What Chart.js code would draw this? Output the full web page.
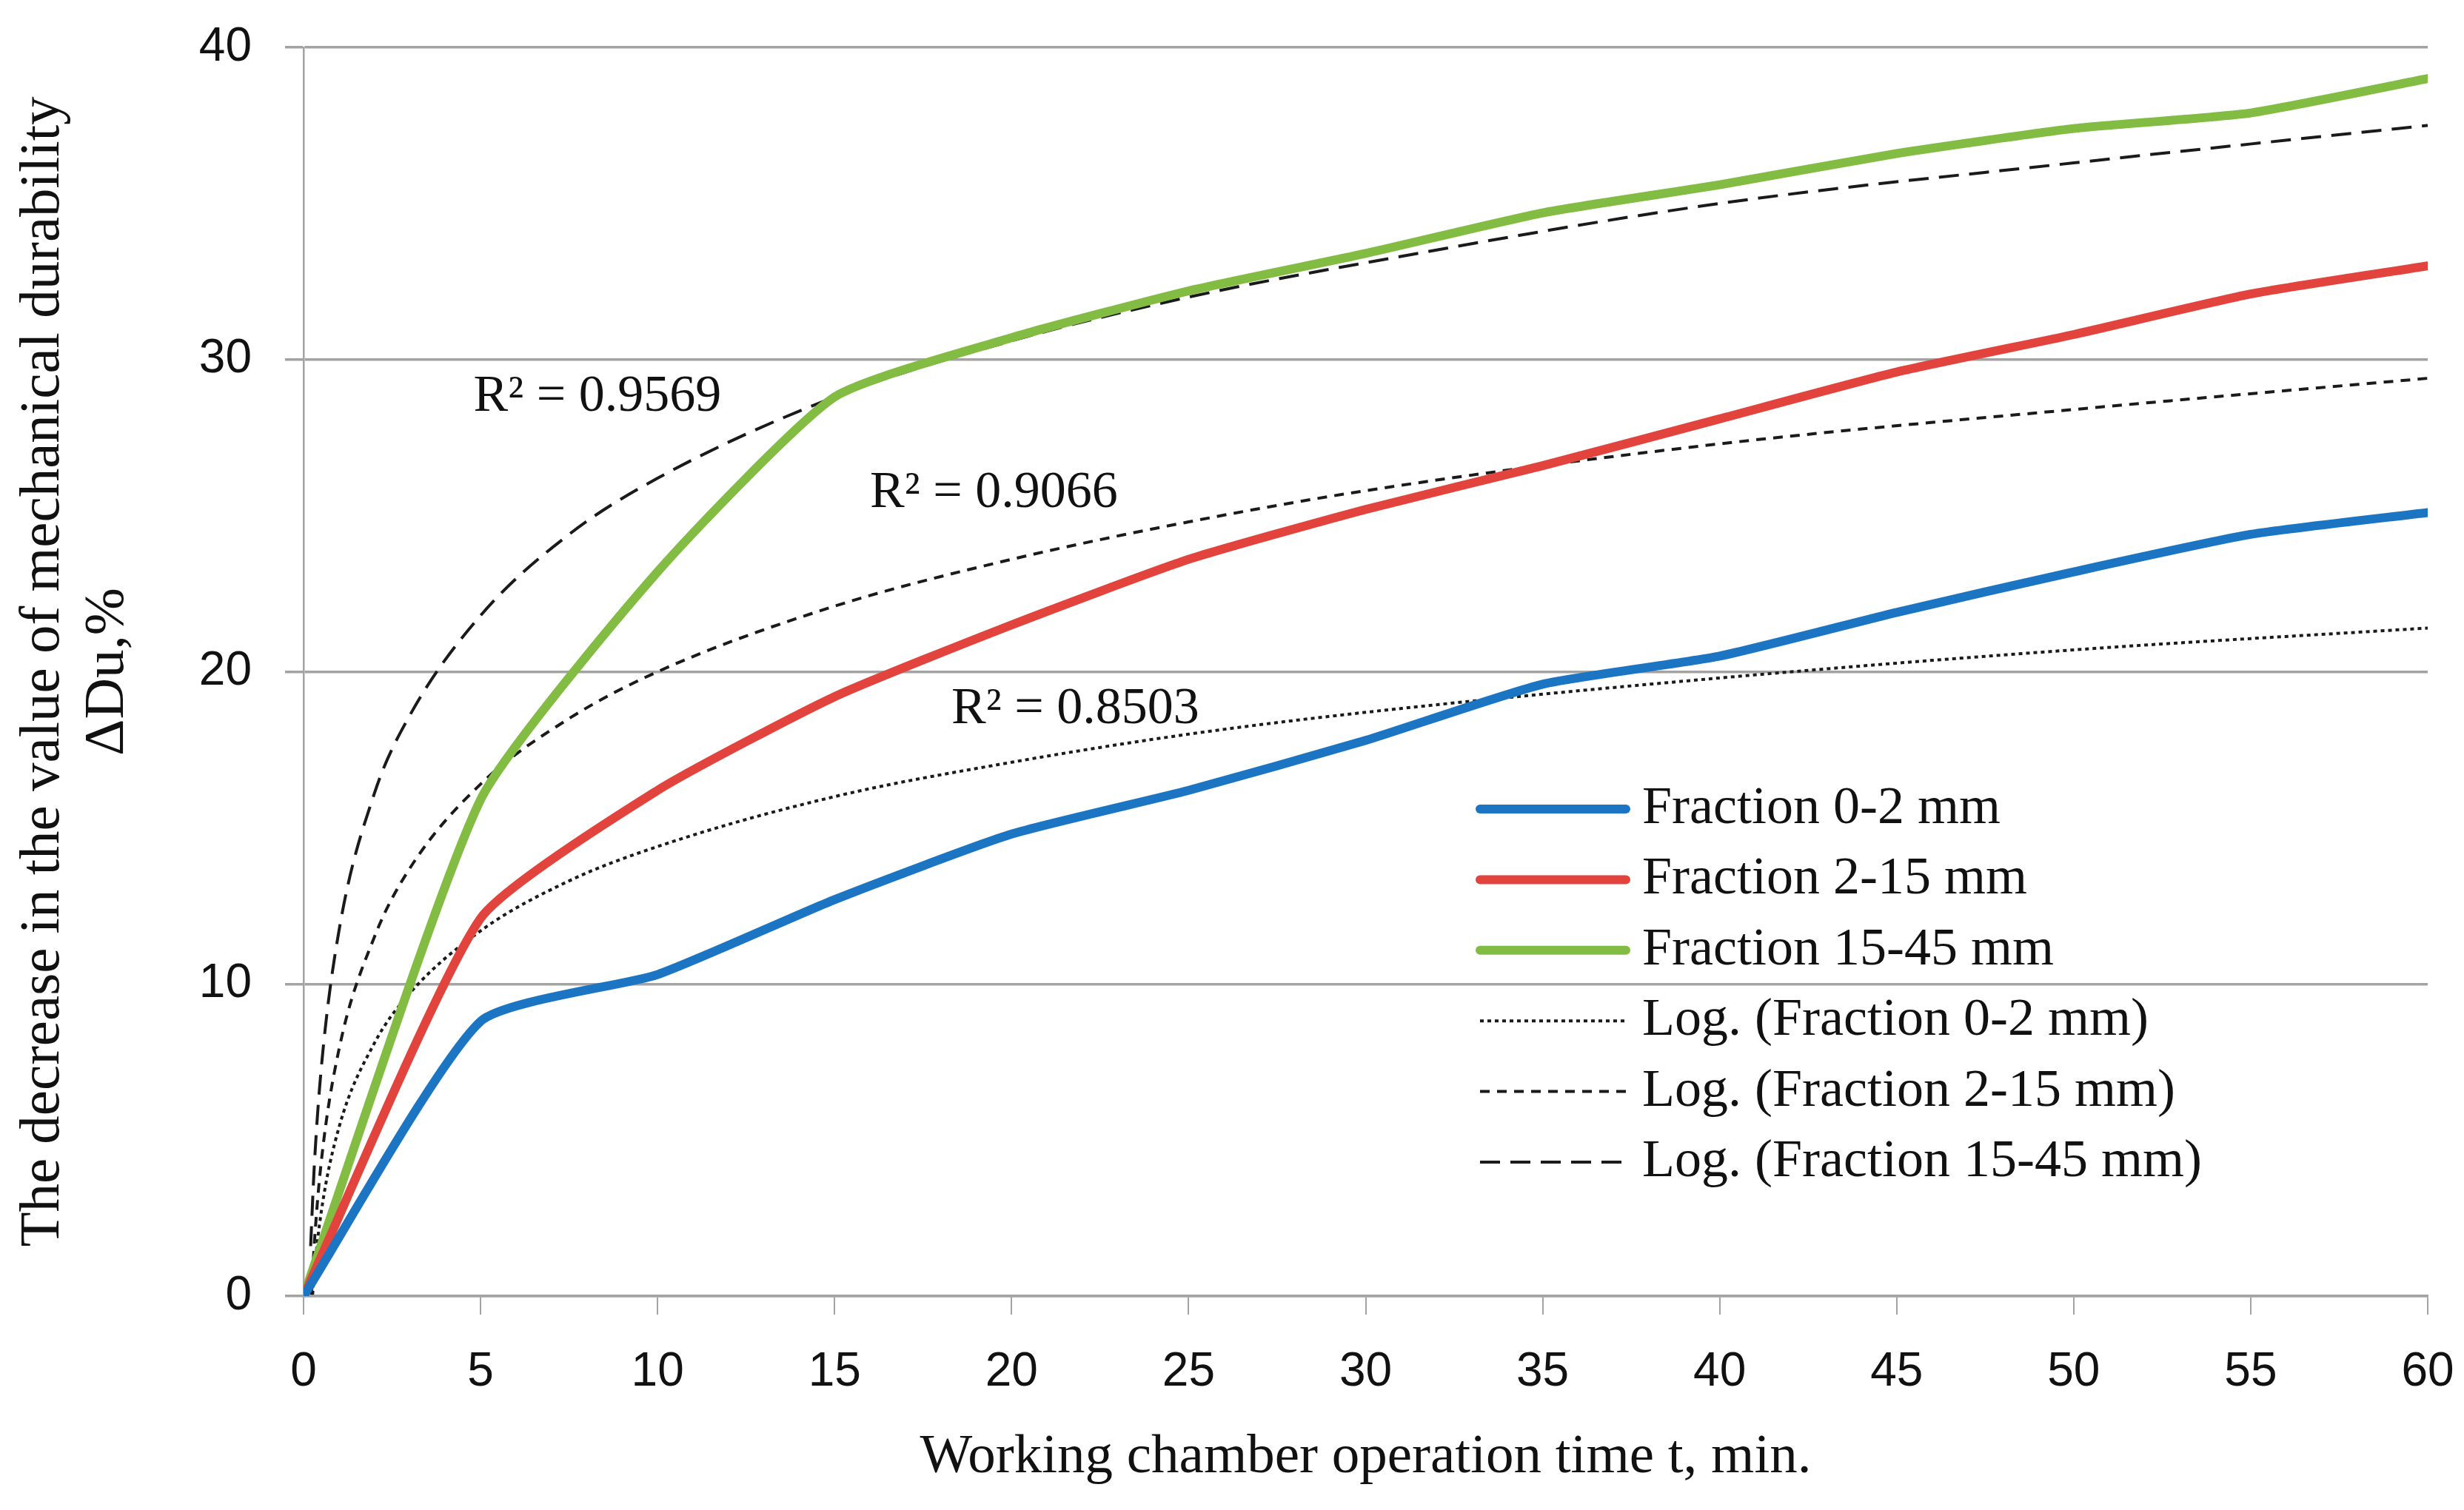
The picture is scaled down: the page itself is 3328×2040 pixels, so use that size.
<!DOCTYPE html>
<html>
<head>
<meta charset="utf-8">
<script src="https://cdn.jsdelivr.net/npm/chart.js@4.4.1/dist/chart.umd.min.js"></script>
<style>
    html, body { margin: 0; padding: 0; background: #fff; }
    #wrap { width: 3328px; height: 2040px; }
</style>
</head>
<body>
<div id="wrap"><canvas id="durability-chart" width="3328" height="2040"></canvas></div>
<script>
var timeMin = [0, 5, 10, 15, 20, 25, 30, 35, 40, 45, 50, 55, 60];
var fraction0_2 = [0, 8.8, 10.3, 12.7, 14.8, 16.2, 17.8, 19.6, 20.5, 21.9, 23.2, 24.4, 25.1];
var fraction2_15 = [0, 12.1, 16.2, 19.2, 21.5, 23.6, 25.2, 26.6, 28.1, 29.6, 30.8, 32.1, 33.0];
var fraction15_45 = [0, 15.9, 23.2, 28.8, 30.7, 32.2, 33.4, 34.7, 35.6, 36.6, 37.4, 37.9, 39.0];

// logarithmic trend lines
var trendT = [0.2, 0.3, 0.5, 1, 2, 3, 5, 7.5, 10, 15, 20, 25, 30, 40, 50, 60];
var log0_2 = [-0.9, 0.7, 2.7, 5.4, 8.1, 9.7, 11.7, 13.3, 14.4, 16.0, 17.1, 18.0, 18.7, 19.8, 20.7, 21.4];
var log2_15 = [-0.5, 1.6, 4.3, 7.9, 11.5, 13.7, 16.4, 18.5, 20.0, 22.1, 23.6, 24.8, 25.8, 27.3, 28.4, 29.4];
var log15_45 = [1.6, 4.1, 7.3, 11.7, 16.1, 18.6, 21.8, 24.4, 26.2, 28.8, 30.6, 32.0, 33.1, 35.0, 36.3, 37.5];

var r2Texts = ['R\u00B2 = 0.9569', 'R\u00B2 = 0.9066', 'R\u00B2 = 0.8503'];
var r2At = [[8.3, 28.8], [19.5, 25.7], [21.8, 18.8]];

var serif = "'Liberation Serif', 'DejaVu Serif', serif";
var narrow = "'Liberation Sans Narrow', 'Liberation Sans', 'DejaVu Sans Condensed', sans-serif";
var axisGray = '#a3a3a3';

function toPoints(xs, ys) {
    var pts = [];
    for (var i = 0; i < xs.length; i++) {
        pts.push({ x: xs[i], y: ys[i] });
    }
    return pts;
}

function measured(label, ys, color) {
    return {
        label: label,
        data: toPoints(timeMin, ys),
        borderColor: color,
        borderWidth: 12,
        pointRadius: 0,
        tension: 0.18,
        borderCapStyle: 'round',
        borderJoinStyle: 'round',
        fill: false
    };
}

function trend(label, ys, dash) {
    return {
        label: label,
        data: toPoints(trendT, ys),
        borderColor: '#1a1a1a',
        borderWidth: 4,
        borderDash: dash,
        pointRadius: 0,
        cubicInterpolationMode: 'monotone',
        fill: false
    };
}

var legendPlugin = {
    id: 'insideLegend',
    afterDraw: function (chart) {
        var ctx = chart.ctx;
        var xs = chart.scales.x, ys = chart.scales.y;
        ctx.save();
        ctx.fillStyle = '#111';
        ctx.textBaseline = 'middle';

        // R2 labels next to the trend lines
        ctx.font = '70px ' + serif;
        ctx.textAlign = 'center';
        for (var k = 0; k < r2Texts.length; k++) {
            ctx.fillText(r2Texts[k], xs.getPixelForValue(r2At[k][0]), ys.getPixelForValue(r2At[k][1]));
        }

        // legend inside plot, right side
        ctx.font = '72px ' + serif;
        ctx.textAlign = 'left';
        var x0 = 1999, x1 = 2196, tx = 2218, y0 = 1093, step = 95.4;
        chart.data.datasets.forEach(function (ds, i) {
            var y = y0 + i * step;
            ctx.save();
            ctx.strokeStyle = ds.borderColor;
            ctx.lineWidth = ds.borderWidth;
            ctx.lineCap = ds.borderDash ? 'butt' : 'round';
            ctx.setLineDash(ds.borderDash || []);
            ctx.beginPath();
            ctx.moveTo(x0, y);
            ctx.lineTo(x1, y);
            ctx.stroke();
            ctx.restore();
            ctx.fillText(ds.label, tx, y);
        });
        ctx.restore();
    }
};

var ctx = document.getElementById('durability-chart').getContext('2d');
var durabilityChart = new Chart(ctx, {
    type: 'line',
    data: {
        datasets: [
            measured('Fraction 0-2 mm', fraction0_2, '#1b75c3'),
            measured('Fraction 2-15 mm', fraction2_15, '#e2443d'),
            measured('Fraction 15-45 mm', fraction15_45, '#82bc43'),
            trend('Log. (Fraction 0-2 mm)', log0_2, [5, 5]),
            trend('Log. (Fraction 2-15 mm)', log2_15, [13, 10]),
            trend('Log. (Fraction 15-45 mm)', log15_45, [27, 14])
        ]
    },
    options: {
        responsive: false,
        devicePixelRatio: 1,
        animation: false,
        layout: { padding: { top: 64, right: 49, bottom: 0, left: 0 } },
        plugins: {
            legend: { display: false },
            tooltip: { enabled: false }
        },
        scales: {
            x: {
                type: 'linear',
                min: 0,
                max: 60,
                ticks: { stepSize: 5, padding: 40, color: '#111', font: { family: narrow, size: 64 } },
                grid: { drawOnChartArea: false, drawTicks: true, tickLength: 25, color: axisGray, lineWidth: 2 },
                border: { color: axisGray, width: 3.5 },
                title: {
                    display: true,
                    text: 'Working chamber operation time t, min.',
                    color: '#111',
                    font: { family: serif, size: 75, lineHeight: 1.15 },
                    padding: { top: 0, bottom: 28 }
                },
                afterFit: function (scale) {
                    scale.height = 289;
                    scale.paddingLeft = 0;
                    scale.paddingRight = 0;
                }
            },
            y: {
                min: 0,
                max: 40,
                ticks: { stepSize: 10, padding: 45, color: '#111', font: { family: narrow, size: 64 } },
                grid: { color: axisGray, lineWidth: 3.5, drawTicks: true, tickLength: 25 },
                border: { color: axisGray, width: 2.5 },
                title: {
                    display: true,
                    text: ['The decrease in the value of mechanical durability', '\u0394Du,%'],
                    color: '#111',
                    font: { family: serif, size: 77, lineHeight: 1.12 },
                    padding: { top: 16, bottom: 0 }
                },
                afterFit: function (scale) {
                    scale.width = 410;
                    scale.paddingTop = 0;
                    scale.paddingBottom = 0;
                }
            }
        }
    },
    plugins: [legendPlugin]
});
</script>
</body>
</html>
